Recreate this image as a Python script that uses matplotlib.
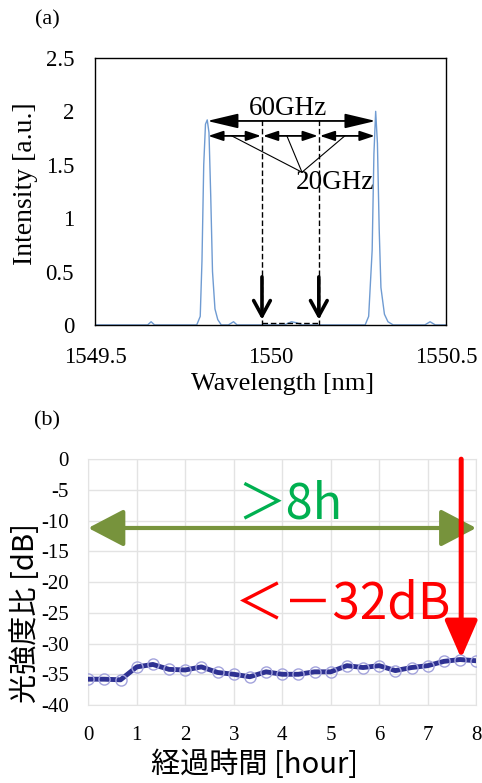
import matplotlib
matplotlib.use("Agg")
import matplotlib.pyplot as plt
from matplotlib.patches import FancyArrowPatch, ArrowStyle

# (a) スペクトル
wl = [1549.50, 1549.62, 1549.65, 1549.66, 1549.67, 1549.70, 1549.79, 1549.80, 1549.805,
      1549.81, 1549.815, 1549.82, 1549.825, 1549.83, 1549.835, 1549.842, 1549.85, 1549.86,
      1549.88, 1549.895, 1549.905, 1549.92, 1550.04, 1550.06, 1550.075, 1550.09, 1550.20,
      1550.27, 1550.28, 1550.29, 1550.295, 1550.30, 1550.305, 1550.31, 1550.315, 1550.325,
      1550.335, 1550.35, 1550.44, 1550.455, 1550.47, 1550.50]
inten = [0.0, 0.0, 0.0, 0.03, 0.0, 0.0, 0.0, 0.08, 0.6,
         1.5, 1.88, 1.92, 1.8, 1.2, 0.5, 0.15, 0.05, 0.0,
         0.0, 0.03, 0.0, 0.0, 0.0, 0.03, 0.02, 0.0, 0.0,
         0.0, 0.08, 0.7, 1.6, 2.0, 1.7, 0.9, 0.35, 0.1,
         0.03, 0.0, 0.0, 0.03, 0.0, 0.0]
peak_l, peak_r = 1549.82, 1550.30
mid1, mid2 = 1549.976, 1550.138
xticks_a = [1549.5, 1550, 1550.5]
xticklabels_a = ["1549.5", "1550", "1550.5"]
yticks_a = [0, 0.5, 1, 1.5, 2, 2.5]
yticklabels_a = ["0", "0.5", "1", "1.5", "2", "2.5"]

# (b) 経過時間
hours = [i / 3 for i in range(25)]
ratio_db = [-35.8, -35.8, -35.9, -33.8, -33.4, -34.2, -34.3, -33.8, -34.7,
            -35.0, -35.4, -34.6, -35.0, -35.0, -34.6, -34.6, -33.6, -33.9,
            -33.6, -34.4, -33.9, -33.6, -32.9, -32.6, -32.8]
xticks_b = list(range(9))
yticks_b = list(range(-40, 1, 5))

serif = "Liberation Serif"
jp = ["Noto Sans CJK JP", "DejaVu Sans"]

fig = plt.figure(figsize=(4.82, 7.83), dpi=100)

# ---------- (a) ----------
ax = fig.add_axes([0.197, 0.585, 0.728, 0.341])
ax.plot(wl, inten, color="#6f9bd2", lw=1.0)
ax.set_xlim(1549.5, 1550.5)
ax.set_ylim(0, 2.5)
ax.set_xticks(xticks_a)
ax.set_xticklabels(xticklabels_a, family=serif, fontsize=16.5)
ax.set_yticks(yticks_a)
ax.set_yticklabels(yticklabels_a, family=serif, fontsize=16.5)
ax.tick_params(axis="x", length=0, pad=16)
ax.tick_params(axis="y", length=0, pad=15)
for s in ax.spines.values():
    s.set_linewidth(1.0)
ax.set_xlabel("Wavelength [nm]", family=serif, fontsize=19)
ax.set_ylabel("Intensity [a.u.]", family=serif, fontsize=20)
# ラベル位置は元図に合わせて手で調整
ax.xaxis.set_label_coords(0.534, -0.18)
ax.yaxis.set_label_coords(-0.162, 0.53)

big = ArrowStyle("<|-|>", head_length=19, head_width=4.5)
ax.add_patch(FancyArrowPatch((peak_l, 1.91), (peak_r, 1.91), arrowstyle=big,
                             color="black", lw=1.3, shrinkA=0, shrinkB=0))
small = ArrowStyle("<|-|>", head_length=9, head_width=3)
for a, b in [(peak_l, mid1), (mid1, mid2), (mid2, peak_r)]:
    ax.add_patch(FancyArrowPatch((a + 0.003, 1.77), (b - 0.003, 1.77), arrowstyle=small,
                                 color="black", lw=1.3, shrinkA=0, shrinkB=0))
for m in [mid1, mid2]:
    ax.plot([m, m], [1.92, 0], color="black", lw=1.0, ls=(0, (4, 2)))
    ax.add_patch(FancyArrowPatch((m, 0.45), (m, 0.05),
                                 arrowstyle=ArrowStyle("->", head_length=11, head_width=6),
                                 color="black", lw=2.6, shrinkA=0, shrinkB=0))
ax.plot([mid1, mid2], [0.02, 0.02], color="black", lw=1.0, ls=(0, (4, 2)))
for lx in [1549.89, 1550.047, 1550.212]:
    ax.plot([lx, 1550.09], [1.77, 1.43], color="black", lw=0.8)
ax.text(1550.05, 2.03, "60GHz", family=serif, fontsize=19.5, ha="center", va="center")
ax.text(1550.185, 1.33, "20GHz", family=serif, fontsize=19.5, ha="center", va="center")
fig.text(0.098, 0.974, "(a)", family=serif, fontsize=16, ha="center", va="center")

# ---------- (b) ----------
bx = fig.add_axes([0.183, 0.0996, 0.805, 0.314])
bx.set_xlim(0, 8)
bx.set_ylim(-40, 0)
bx.set_xticks(xticks_b)
bx.set_xticklabels([str(v) for v in xticks_b], family=serif, fontsize=15)
bx.set_yticks(yticks_b)
bx.set_yticklabels([str(v) for v in yticks_b], family=serif, fontsize=15)
bx.tick_params(axis="x", length=0, pad=15)
bx.tick_params(axis="y", length=0, pad=14)
bx.grid(True, color="#e3e3e3", lw=1.0)
bx.set_axisbelow(True)
for s in bx.spines.values():
    s.set_color("#e3e3e3")
bx.plot(hours, ratio_db, color="#2e3192", lw=3.5, zorder=3,
        marker="o", ms=8, mfc="none", mec="#a3a3dc", mew=1.0)
bx.set_xlabel("経過時間 [hour]", family=jp, fontsize=21)
bx.set_ylabel("光強度比 [dB]", family=jp, fontsize=21)
bx.xaxis.set_label_coords(0.43, -0.185)
bx.yaxis.set_label_coords(-0.122, 0.374)

bx.add_patch(FancyArrowPatch((0, -11.2), (8, -11.2),
                             arrowstyle=ArrowStyle("<|-|>", head_length=22, head_width=11.5),
                             color="#77933c", lw=3.0, shrinkA=0, shrinkB=0, clip_on=False, zorder=4))
bx.add_patch(FancyArrowPatch((7.69, 0), (7.69, -32.4),
                             arrowstyle=ArrowStyle("-|>", head_length=23, head_width=10),
                             color="#ff0000", lw=3.6, shrinkA=0, shrinkB=0, clip_on=False, zorder=5))
bx.text(4.16, -7.4, "＞8h", family=jp, fontsize=35, color="#00b050", ha="center", va="center", zorder=6)
bx.text(5.26, -23.6, "＜－32dB", family=jp, fontsize=35.5, color="#ff0000", ha="center", va="center", zorder=6)
fig.text(0.098, 0.463, "(b)", family=serif, fontsize=16, ha="center", va="center")

fig.savefig("out.png", dpi=100)
